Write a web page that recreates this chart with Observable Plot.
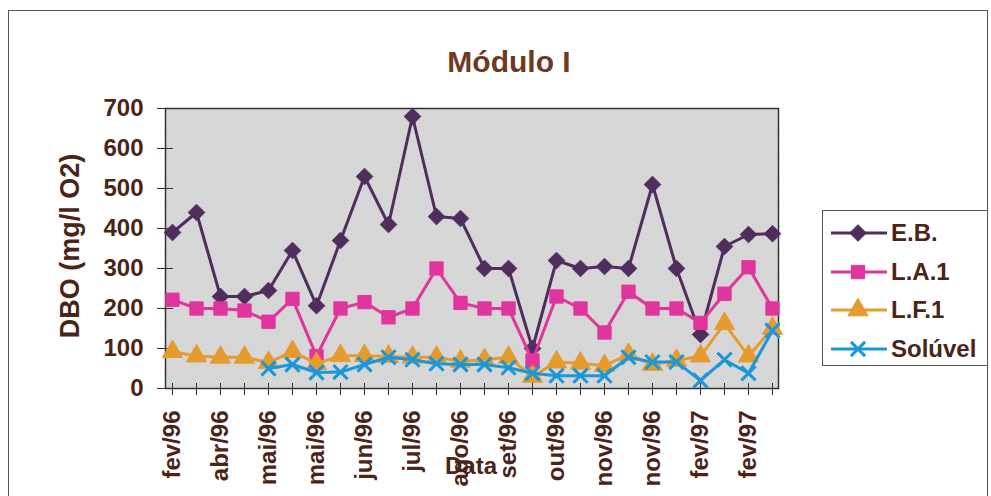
<!DOCTYPE html>
<html><head><meta charset="utf-8">
<script src="https://cdn.jsdelivr.net/npm/d3@7"></script>
<script src="https://cdn.jsdelivr.net/npm/@observablehq/plot@0.6"></script>
<style>
body{margin:0;background:#fff;}
#wrap{position:relative;width:991px;height:496px;overflow:hidden;font-family:"Liberation Sans",Arial,sans-serif;font-weight:bold;color:#4a2416;}
#frame{position:absolute;left:8px;top:10px;width:980px;height:520px;border:1.5px solid #555;box-sizing:border-box;}
#chart{position:absolute;left:0;top:0;}
#title{position:absolute;left:509px;top:62px;transform:translate(-50%,-50%);font-size:30px;color:#6e3a1e;white-space:nowrap;}
#ylab{position:absolute;left:70px;top:246px;transform:translate(-50%,-50%) rotate(-90deg);font-size:27px;white-space:nowrap;}
#xlab{position:absolute;left:471px;top:466px;transform:translate(-50%,-50%);font-size:24px;}
#legend{position:absolute;left:822px;top:210px;width:166px;height:156px;background:#fff;border:1.5px solid #555;box-sizing:border-box;}
.li{position:absolute;left:6px;height:30px;display:flex;align-items:center;font-size:24px;}
.li svg{margin-right:2px;}
</style>
</head><body>
<div id="wrap">
  <div id="frame"></div>
  <div id="chart"></div>
  <div id="title">Módulo I</div>
  <div id="ylab">DBO (mg/l O2)</div>
  <div id="xlab">Data</div>
  <div id="legend"></div>
</div>
<script>
const dateLabels = ["fev/96","abr/96","mai/96","mai/96","jun/96","jul/96","ago/96","set/96","out/96","nov/96","nov/96","fev/97","fev/97"];
const seriesNames = ["E.B.","L.A.1","L.F.1","Solúvel"];
const seriesColors = ["#4f2d5c","#e0359c","#e59b2e","#1b97d8"];
const seriesSymbols = ["diamond2","square","triangle","times"];
const eb = [390,440,230,230,245,345,207,370,530,410,680,430,425,300,300,100,320,300,305,300,510,300,135,355,385,387];
const la1 = [222,200,200,195,167,224,81,200,216,178,200,300,214,200,200,70,230,200,140,242,200,200,164,237,303,200];
const lf1 = [92,81,78,78,65,92,62,82,82,80,78,78,68,72,78,30,66,63,57,85,60,70,81,162,81,150];
const soluvel = [null,null,null,null,50,60,40,41,60,78,72,62,60,60,52,38,32,32,32,78,66,66,20,72,38,145];
const yTicks = [0,100,200,300,400,500,600,700];

const allSeries = [eb, la1, lf1, soluvel];
const rows = [];
allSeries.forEach((vals, s) => vals.forEach((v, i) => rows.push({i, v, s: seriesNames[s]})));
const idx = d3.range(eb.length);
const symR = {diamond2: 7.5, square: 7.5, triangle: 7.5, times: 6.5};

const marks = [
  Plot.frame({fill: "url(#dots)", stroke: "#333", strokeWidth: 1.5}),
  // tick marks crossing the axes
  Plot.axisY({ticks: yTicks, tickSize: 16, dx: 8, tickFormat: () => "", label: null, stroke: "#333"}),
  Plot.axisX({ticks: idx, tickSize: 12, dy: -5, tickFormat: () => "", label: null, stroke: "#333"}),
  // tick labels
  Plot.axisY({ticks: yTicks, tickSize: 0, tickPadding: 22, fontSize: 24, label: null}),
  Plot.axisX({ticks: idx, tickSize: 0, tickRotate: -90, tickPadding: 22, fontSize: 24, label: null,
    tickFormat: i => i % 2 === 0 ? dateLabels[i / 2] : ""}),
];
seriesNames.forEach((name, s) => {
  const d = rows.filter(r => r.s === name);
  marks.push(Plot.line(d, {x: "i", y: "v", stroke: seriesColors[s], strokeWidth: 3}));
  const isX = seriesSymbols[s] === "times";
  marks.push(Plot.dot(d.filter(r => r.v != null), {x: "i", y: "v", symbol: () => seriesSymbols[s],
    r: symR[seriesSymbols[s]],
    fill: isX ? "none" : seriesColors[s], stroke: seriesColors[s], strokeWidth: isX ? 3 : 1}));
});

const plot = Plot.plot({
  width: 991, height: 496,
  marginLeft: 165, marginRight: 213, marginTop: 108, marginBottom: 108,
  x: {type: "point", domain: idx, padding: 0},
  y: {domain: [0, 700]},
  style: {fontFamily: "'Liberation Sans', Arial, sans-serif", fontWeight: "bold", color: "#4a2416", background: "transparent"},
  marks
});
const defs = d3.create("svg:defs");
const pat = defs.append("pattern").attr("id", "dots").attr("width", 3).attr("height", 3).attr("patternUnits", "userSpaceOnUse");
pat.append("rect").attr("width", 3).attr("height", 3).attr("fill", "#f2f2f2");
pat.append("rect").attr("width", 1.5).attr("height", 1.5).attr("fill", "#bababa");
pat.append("rect").attr("x", 1.5).attr("y", 1.5).attr("width", 1.5).attr("height", 1.5).attr("fill", "#bababa");
plot.insertBefore(defs.node(), plot.firstChild);
document.getElementById("chart").appendChild(plot);

// legend
const leg = d3.select("#legend");
seriesNames.forEach((name, s) => {
  const item = leg.append("div").attr("class", "li").style("top", (7 + s * 38.5) + "px");
  const sv = item.append("svg").attr("width", 60).attr("height", 24);
  sv.append("line").attr("x1", 2).attr("x2", 58).attr("y1", 12).attr("y2", 12).attr("stroke", seriesColors[s]).attr("stroke-width", 3);
  const sym = {diamond2: d3.symbolDiamond2, square: d3.symbolSquare, triangle: d3.symbolTriangle, times: d3.symbolTimes}[seriesSymbols[s]];
  const isX = seriesSymbols[s] === "times";
  const r = symR[seriesSymbols[s]];
  sv.append("path").attr("transform", "translate(29,12)").attr("d", d3.symbol(sym, r * r * Math.PI)())
    .attr("fill", isX ? "none" : seriesColors[s]).attr("stroke", seriesColors[s]).attr("stroke-width", isX ? 3 : 1);
  item.append("span").text(name);
});
</script>
</body></html>
